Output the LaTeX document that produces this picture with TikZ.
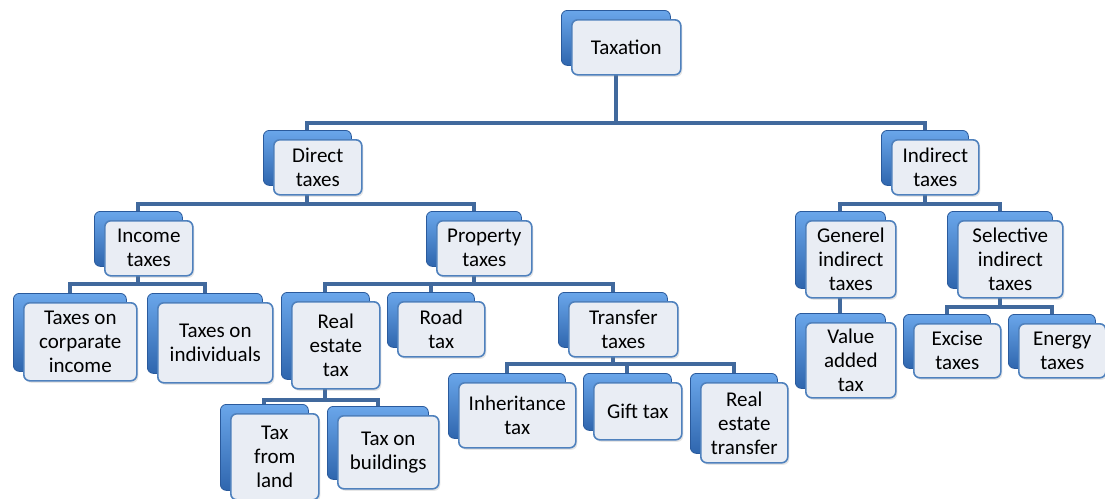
\documentclass[tikz,border=0pt]{standalone}
\usepackage{fontspec}
\setmainfont{Carlito}
\usetikzlibrary{backgrounds,shadows}
\definecolor{boxblue}{HTML}{2F66AE}
\definecolor{boxbluetop}{HTML}{6AA6EA}
\definecolor{boxbluedark}{HTML}{2A5A9C}
\definecolor{frontfill}{HTML}{E9EDF4}
\definecolor{frontline}{HTML}{4F81BD}
\definecolor{linkblue}{HTML}{41699D}
\tikzset{
  backbox/.style={draw=boxbluedark, line width=0.8pt, rounded corners=6pt,
    top color=boxbluetop, bottom color=boxblue, anchor=north west, inner sep=0pt},
  frontbox/.style={draw=frontline, line width=1.6pt, rounded corners=6pt, fill=frontfill,
    anchor=north west, inner sep=0pt, align=center, font=\fontsize{21}{24}\selectfont,
    drop shadow={opacity=0.2, shadow xshift=1.5pt, shadow yshift=-2pt}},
  link/.style={draw=linkblue, line width=4pt}
}
% back box at (x,y) = top left corner, front box shifted right and down
\newcommand{\taxbox}[6]{%
  \node[backbox, minimum width=#4pt, minimum height=#5pt] (#1) at (#2,#3) {};
  \node[frontbox, minimum width=#4pt, minimum height=#5pt] (#1f) at ([shift={(10pt,-9pt)}]#1.north west) {#6};
}
\begin{document}
\begin{tikzpicture}[x=1pt,y=-1pt]
\useasboundingbox (0,0) rectangle (1105,498);
% level 0 and 1
\taxbox{tax}{561}{10}{109}{55}{Taxation}
\taxbox{dir}{263}{130}{88}{55}{Direct\\taxes}
\taxbox{ind}{881}{130}{87}{55}{Indirect\\taxes}
% level 2
\taxbox{inc}{94}{211}{88}{55}{Income\\taxes}
\taxbox{prop}{426}{211}{95}{55}{Property\\taxes}
\taxbox{gen}{795}{211}{90}{77}{Generel\\indirect\\taxes}
\taxbox{sel}{947}{211}{105}{77}{Selective\\indirect\\taxes}
% level 3
\taxbox{corp}{13}{293}{113}{78}{Taxes on\\corparate\\income}
\taxbox{indiv}{147}{293}{115}{80}{Taxes on\\individuals}
\taxbox{real}{281}{292}{88}{87}{Real\\estate\\tax}
\taxbox{road}{387}{292}{87}{55}{Road\\tax}
\taxbox{trans}{558}{292}{109}{55}{Transfer\\taxes}
\taxbox{vat}{795}{313}{90}{75}{Value\\added\\tax}
\taxbox{exc}{903}{314}{87}{54}{Excise\\taxes}
\taxbox{ener}{1008}{314}{87}{54}{Energy\\taxes}
% level 4
\taxbox{inh}{448}{373}{117}{65}{Inheritance\\tax}
\taxbox{gift}{583}{373}{88}{57}{Gift tax}
\taxbox{retr}{690}{373}{87}{80}{Real\\estate\\transfer}
\taxbox{land}{220}{404}{88}{86}{Tax\\from\\land}
\taxbox{build}{327}{406}{101}{73}{Tax on\\buildings}
% connectors
\begin{scope}[on background layer]
\draw[link] (tax.south) -- ++(0,57) coordinate (j0);
\foreach \c in {dir,ind} \draw[link] (j0) -| (\c.north);
\draw[link] (dir.south) -- ++(0,18) coordinate (j1);
\foreach \c in {inc,prop} \draw[link] (j1) -| (\c.north);
\draw[link] (ind.south) -- ++(0,18) coordinate (j2);
\foreach \c in {gen,sel} \draw[link] (j2) -| (\c.north);
\draw[link] (inc.south) -- ++(0,17) coordinate (j3);
\foreach \c in {corp,indiv} \draw[link] (j3) -| (\c.north);
\draw[link] (prop.south) -- ++(0,17) coordinate (j4);
\foreach \c in {real,road,trans} \draw[link] (j4) -| (\c.north);
\draw[link] (trans.south) -- ++(0,16) coordinate (j5);
\foreach \c in {inh,gift,retr} \draw[link] (j5) -| (\c.north);
\draw[link] (real.south) -- ++(0,20) coordinate (j6);
\foreach \c in {land,build} \draw[link] (j6) -| (\c.north);
\draw[link] (gen.south) -- (vat.north);
\draw[link] (sel.south) -- ++(0,18) coordinate (j7);
\foreach \c in {exc,ener} \draw[link] (j7) -| (\c.north);
\end{scope}
\end{tikzpicture}
\end{document}
